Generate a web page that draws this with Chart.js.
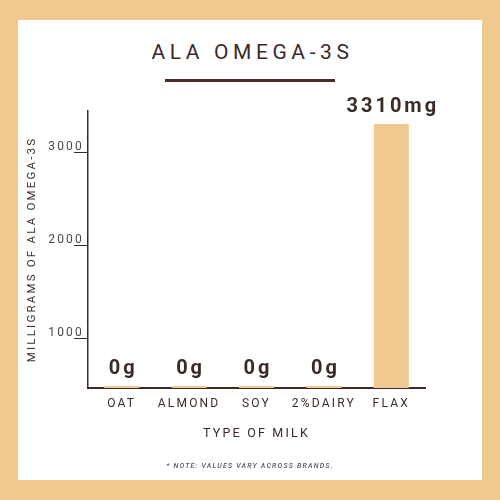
<!DOCTYPE html>
<html>
<head>
<meta charset="utf-8">
<script src="https://cdn.jsdelivr.net/npm/chart.js@4.4.1/dist/chart.umd.min.js"></script>
<style>
  body { margin: 0; background: #efc98f; font-family: Roboto, sans-serif; }
  #panel { position: absolute; left: 18px; top: 20px; width: 464px; height: 460px; background: #fff; }
  #title { position: absolute; left: 0; top: 40px; width: 500px; text-align: center; margin: 0;
           font: 400 21px Roboto, sans-serif; letter-spacing: 4.6px; color: #3a2b27; text-indent: 5px; }
  #rule { position: absolute; left: 165px; top: 79px; width: 170px; height: 3px; background: #4a2e28; }
  #note { position: absolute; left: 0; top: 462px; width: 500px; text-align: center;
          font: italic 500 7px Roboto, sans-serif; letter-spacing: 1.2px; color: #555; }
  #wrap { position: absolute; left: 0; top: 0; width: 500px; height: 500px; }
</style>
</head>
<body>
<div id="panel"></div>
<h1 id="title">ALA OMEGA-3S</h1>
<div id="rule"></div>
<div id="wrap"><canvas id="milkChart" width="500" height="500"></canvas></div>
<div id="note">* NOTE: VALUES VARY ACROSS BRANDS.</div>
<script>
// --- data
var milkTypes = ['OAT', 'ALMOND', 'SOY', '2%DAIRY', 'FLAX'];
var alaValues = [0, 0, 0, 0, 3310];
var valueUnits = ['g', 'g', 'g', 'g', 'mg'];
var yTicks = [1000, 2000, 3000];

var tan = '#efc98f';
var ink = '#3a2b27';

// bars with a zero value sit on their own axis so they show as a thin line on the baseline
var zeroData = alaValues.map(function (v) { return v === 0 ? v : null; });
var mainData = alaValues.map(function (v) { return v > 0 ? v : null; });

var valueLabels = {
    id: 'valueLabels',
    afterDatasetsDraw: function (chart) {
        var ctx = chart.ctx;
        ctx.save();
        ctx.font = 'bold 20px Roboto';
        ctx.fillStyle = ink;
        ctx.textAlign = 'center';
        ctx.textBaseline = 'alphabetic';
        ctx.letterSpacing = '3px';
        chart.data.datasets.forEach(function (ds, di) {
            chart.getDatasetMeta(di).data.forEach(function (bar, i) {
                if (ds.data[i] === null) return;
                ctx.fillText(alaValues[i] + valueUnits[i], bar.x + 1.5, bar.y - 12);
            });
        });
        ctx.restore();
    }
};

var spacing = {
    id: 'spacing',
    beforeDraw: function (chart) { chart.ctx.letterSpacing = '2.2px'; }
};

new Chart(document.getElementById('milkChart'), {
    type: 'bar',
    data: {
        labels: milkTypes,
        datasets: [{
            data: mainData,
            yAxisID: 'y',
            backgroundColor: tan,
            clip: 0
        }, {
            data: zeroData,
            yAxisID: 'y2',
            backgroundColor: tan,
            minBarLength: 2
        }]
    },
    options: {
        responsive: false,
        animation: false,
        devicePixelRatio: 1,
        layout: { padding: { top: 111, right: 75, left: 0, bottom: 0 } },
        datasets: { bar: { grouped: false, categoryPercentage: 1, barPercentage: 0.52 } },
        plugins: { legend: { display: false }, tooltip: { enabled: false } },
        scales: {
            x: {
                grid: { display: false },
                border: { color: ink, width: 2 },
                ticks: { color: ink, font: { family: 'Roboto', size: 12 }, padding: 1 },
                title: {
                    display: true, text: 'TYPE OF MILK', color: ink,
                    font: { family: 'Roboto', size: 12.5 }, padding: { bottom: 59 }
                },
                afterFit: function (scale) { scale.height = 112; }
            },
            y: {
                min: 470, max: 3450,
                grid: { drawOnChartArea: false, tickLength: 14, tickColor: ink, tickWidth: 1 },
                border: { color: ink, width: 1.5 },
                ticks: {
                    color: '#4a4a4a', font: { family: 'Roboto', size: 12 },
                    padding: -10, labelOffset: -6,
                    callback: function (v) { return String(v); }
                },
                afterBuildTicks: function (scale) {
                    scale.ticks = yTicks.map(function (v) { return { value: v }; });
                },
                title: {
                    display: true, text: 'MILLIGRAMS OF ALA OMEGA-3S', color: ink,
                    font: { family: 'Roboto', size: 11.5 }, padding: { top: 25 }
                },
                afterFit: function (scale) { scale.width = 88; }
            },
            y2: {
                display: false, min: 0, max: 3000
            }
        }
    },
    plugins: [spacing, valueLabels]
});
</script>
</body>
</html>
